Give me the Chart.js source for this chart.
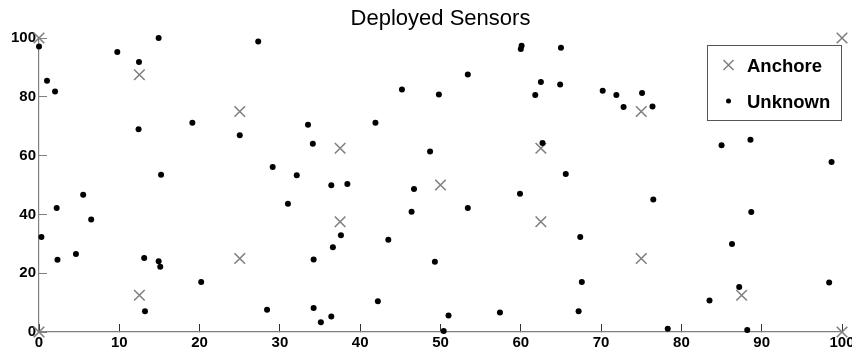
<!DOCTYPE html>
<html>
<head>
<meta charset="utf-8">
<script src="https://cdn.jsdelivr.net/npm/chart.js@4/dist/chart.umd.min.js"></script>
<style>
  html, body { margin: 0; padding: 0; background: #fff; }
  #wrap { width: 852px; height: 355px; }
</style>
</head>
<body>
<div id="wrap"><canvas id="sensors"></canvas></div>
<script>
const chartTitle = "Deployed Sensors";
const seriesNames = ["Anchore", "Unknown"];
const xTicks = [0, 10, 20, 30, 40, 50, 60, 70, 80, 90, 100];
const yTicks = [0, 20, 40, 60, 80, 100];

// anchor nodes (gray x)
const anchorX = [0, 100, 12.5, 25, 37.5, 50, 62.5, 75, 0, 12.5, 25, 37.5, 62.5, 75, 87.5, 100];
const anchorY = [100, 100, 87.5, 75, 62.5, 50, 62.5, 75, 0, 12.5, 25, 37.5, 37.5, 25, 12.5, 0];

// unknown nodes (black dots)
const unknownX = [0, 1.0, 2.0, 9.75, 12.45, 14.9, 12.4, 19.1, 15.2, 27.3,
  45.2, 25.0, 33.5, 41.9, 34.1, 29.1, 32.1, 60.1, 60.0, 65.0,
  53.4, 49.8, 62.5, 64.9, 61.8, 70.2, 71.9, 48.7, 62.7, 65.6,
  75.1, 72.8, 76.4, 85.0, 88.6, 98.7, 5.5, 2.2, 6.5, 0.3,
  4.6, 2.3, 13.1, 14.9, 15.1, 20.2, 13.2, 36.4, 38.4, 46.7,
  31.0, 46.4, 37.6, 36.6, 43.5, 34.2, 42.2, 28.4, 34.2, 36.4,
  35.1, 59.9, 53.4, 67.4, 49.3, 67.6, 51.0, 57.4, 67.2, 50.4,
  76.5, 88.7, 86.3, 98.4, 87.2, 83.5, 78.3, 88.2];
const unknownY = [97.1, 85.5, 81.8, 95.2, 91.8, 100, 69.0, 71.2, 53.5, 98.8,
  82.5, 66.9, 70.5, 71.2, 64.0, 56.1, 53.3, 97.4, 96.3, 96.7,
  87.6, 80.8, 85.0, 84.2, 80.6, 82.1, 80.6, 61.4, 64.3, 53.7,
  81.3, 76.5, 76.7, 63.5, 65.4, 57.8, 46.7, 42.2, 38.3, 32.3,
  26.5, 24.6, 25.2, 24.1, 22.2, 17.0, 7.1, 49.9, 50.3, 48.6,
  43.6, 40.9, 32.9, 28.8, 31.4, 24.7, 10.5, 7.6, 8.2, 5.3,
  3.3, 47.0, 42.2, 32.3, 23.9, 17.0, 5.6, 6.6, 7.1, 0.3,
  45.1, 40.8, 29.9, 16.8, 15.3, 10.7, 1.1, 0.7];

const toPoints = (xs, ys) => xs.map((x, i) => ({ x: x, y: ys[i] }));

Chart.defaults.font.family = "'Liberation Sans', Arial, sans-serif";
Chart.defaults.color = "#000";

// title above the plot box, centred on the plot area
const titlePlugin = {
  id: "plotTitle",
  afterDraw(chart) {
    const ctx = chart.ctx;
    const area = chart.chartArea;
    ctx.save();
    ctx.font = "22px 'Liberation Sans', Arial, sans-serif";
    ctx.fillStyle = "#000";
    ctx.textAlign = "center";
    ctx.textBaseline = "alphabetic";
    ctx.fillText(chartTitle, (area.left + area.right) / 2, 24.5);
    ctx.restore();
  }
};

// boxed legend in the upper right corner, drawn over the points
const boxLegend = {
  id: "boxLegend",
  afterDraw(chart) {
    const ctx = chart.ctx;
    const area = chart.chartArea;
    const w = 134, h = 75;
    const left = area.right - w - 0.5, top = 45.5;
    ctx.save();
    ctx.fillStyle = "#fff";
    ctx.fillRect(left, top, w, h);
    ctx.strokeStyle = "#555";
    ctx.lineWidth = 1;
    ctx.strokeRect(left, top, w, h);
    ctx.font = "bold 18.5px 'Liberation Sans', Arial, sans-serif";
    ctx.textBaseline = "alphabetic";
    ctx.textAlign = "left";
    chart.data.datasets.forEach((ds, i) => {
      const my = top + 19.5 + i * 36;
      const mx = left + 21;
      if (ds.pointStyle === "crossRot") {
        ctx.strokeStyle = ds.borderColor;
        ctx.lineWidth = 1.5;
        ctx.beginPath();
        ctx.moveTo(mx - 5, my - 5); ctx.lineTo(mx + 5, my + 5);
        ctx.moveTo(mx + 5, my - 5); ctx.lineTo(mx - 5, my + 5);
        ctx.stroke();
      } else {
        ctx.fillStyle = ds.backgroundColor;
        ctx.beginPath();
        ctx.arc(mx, my, 2.5, 0, Math.PI * 2);
        ctx.fill();
      }
      ctx.fillStyle = "#000";
      ctx.fillText(ds.label, left + 39.5, my + 7);
    });
    ctx.restore();
  }
};

new Chart(document.getElementById("sensors"), {
  type: "scatter",
  data: {
    datasets: [
      {
        label: seriesNames[0],
        data: toPoints(anchorX, anchorY),
        pointStyle: "crossRot",
        pointRadius: 7.5,
        borderColor: "#808080",
        backgroundColor: "#808080",
        borderWidth: 1.6,
        clip: false,
        order: 2
      },
      {
        label: seriesNames[1],
        data: toPoints(unknownX, unknownY),
        pointStyle: "circle",
        pointRadius: 3,
        borderWidth: 0,
        backgroundColor: "#000",
        borderColor: "#000",
        clip: false,
        order: 1
      }
    ]
  },
  options: {
    responsive: true,
    maintainAspectRatio: false,
    animation: false,
    layout: { padding: { top: 38, right: 10, left: 0, bottom: 0 } },
    plugins: {
      legend: { display: false },
      title: { display: false },
      tooltip: { enabled: false }
    },
    scales: {
      x: {
        type: "linear",
        position: "bottom",
        min: 0,
        max: 100,
        afterBuildTicks: (scale) => { scale.ticks = xTicks.map(v => ({ value: v })); },
        ticks: {
          font: { size: 15, weight: "bold" },
          color: "#000",
          padding: 10,
          maxRotation: 0
        },
        grid: {
          display: true,
          drawOnChartArea: false,
          drawTicks: true,
          tickLength: -8,
          tickColor: "#333",
          lineWidth: 1
        },
        border: { display: true, color: "#808080", width: 1.2 },
        afterFit: (scale) => {
          scale.height = 23;
          scale.paddingLeft = 0;
          scale.paddingRight = 0;
        }
      },
      y: {
        type: "linear",
        position: "left",
        min: 0,
        max: 100,
        afterBuildTicks: (scale) => { scale.ticks = yTicks.map(v => ({ value: v })); },
        ticks: {
          font: { size: 15, weight: "bold" },
          color: "#000",
          padding: 11
        },
        grid: {
          display: true,
          drawOnChartArea: false,
          drawTicks: true,
          tickLength: -8,
          tickColor: "#808080",
          lineWidth: 1
        },
        border: { display: true, color: "#808080", width: 1.2 },
        afterFit: (scale) => {
          scale.width = 39;
          scale.paddingTop = 0;
          scale.paddingBottom = 0;
        }
      }
    }
  },
  plugins: [titlePlugin, boxLegend]
});
</script>
</body>
</html>
